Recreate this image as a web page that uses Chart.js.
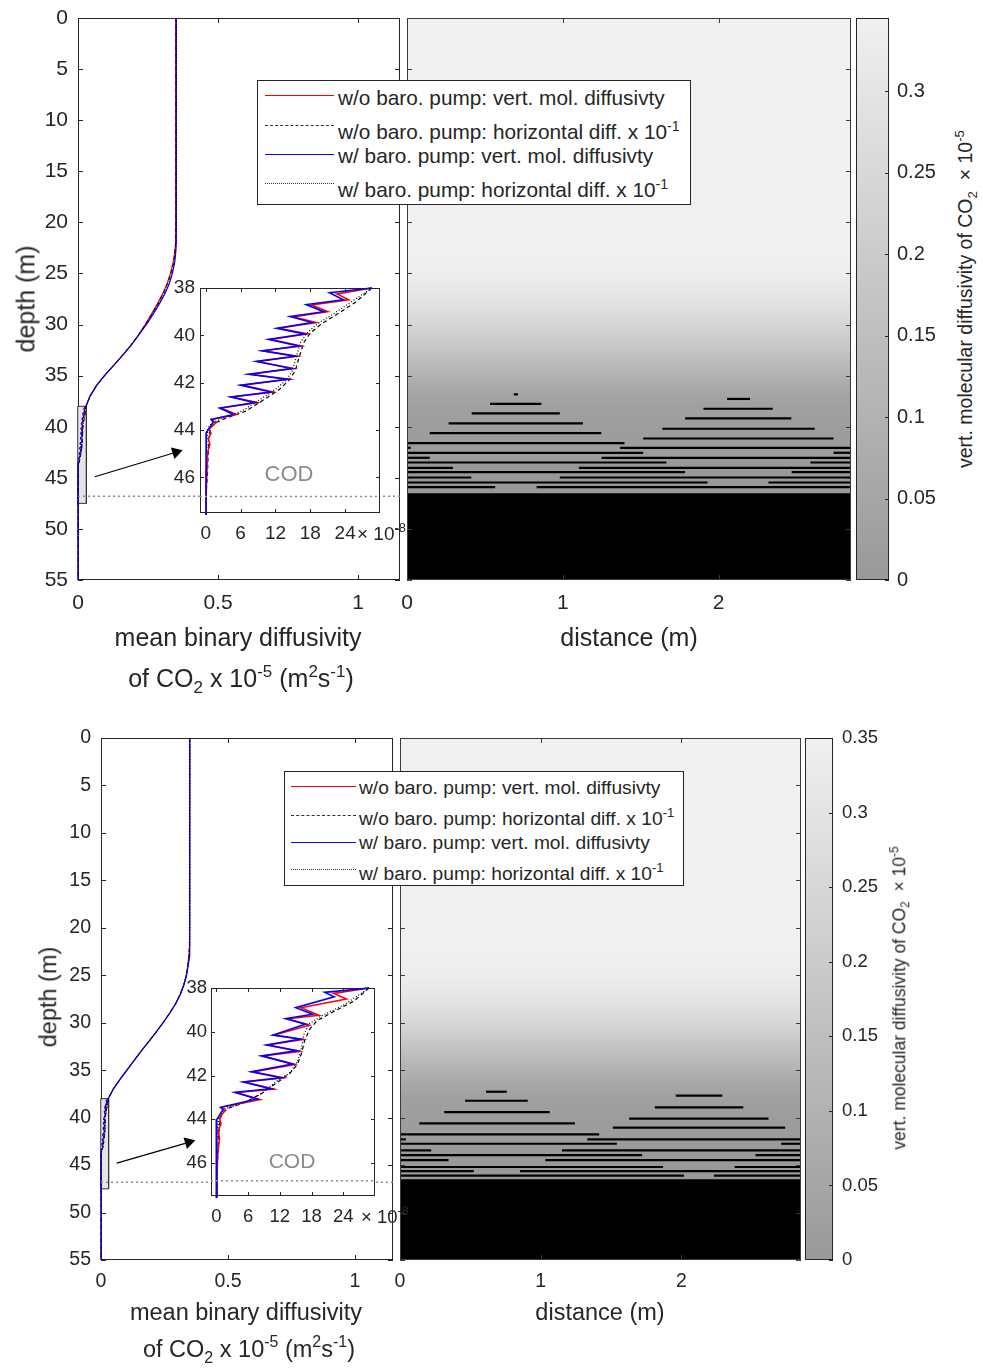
<!DOCTYPE html>
<html>
<head>
<meta charset="utf-8">
<title>CO2 diffusivity profiles</title>
<script src="https://cdn.jsdelivr.net/npm/chart.js@4.4.1/dist/chart.umd.min.js"></script>
<style>
  html, body { margin: 0; padding: 0; background: #fff; }
  #page { position: relative; width: 983px; height: 1370px; overflow: hidden;
          font-family: 'Liberation Sans', Arial, sans-serif; color: #262626; }
  #page canvas { position: absolute; }
  .t { position: absolute; white-space: nowrap; line-height: 1; transform: translate(-50%, -50%); z-index: 5; }
  .t.left { transform: translate(0, -50%); }
  .t.rot { transform: translate(-50%, -50%) rotate(-90deg); }
  sup, sub { font-size: 0.68em; line-height: 0; position: relative; vertical-align: baseline; }
  sup { top: -0.6em; }
  sub { top: 0.35em; }
  .legend { position: absolute; background: #fff; border: 1px solid #262626; box-sizing: border-box; z-index: 6; }
  .legend .smp { position: absolute; height: 0; }
  .legend .lt { position: absolute; white-space: nowrap; line-height: 1; transform: translateY(-50%); }
</style>
</head>
<body>
<div id="page">
  <!-- top panel texts -->
  <div class="t rot" style="left:26px;top:299px;font-size:25px">depth (m)</div>
  <div class="t" style="left:238px;top:637px;font-size:25px">mean binary diffusivity</div>
  <div class="t" style="left:241px;top:678px;font-size:25px">of CO<sub>2</sub> x 10<sup>-5</sup> (m<sup>2</sup>s<sup>-1</sup>)</div>
  <div class="t" style="left:629px;top:637px;font-size:25px">distance (m)</div>
  <div class="t rot" style="left:966px;top:299px;font-size:19.5px">vert. molecular diffusivity of CO<sub>2</sub>&nbsp;&nbsp;× 10<sup>-5</sup></div>
  <div class="t left" style="left:357px;top:533px;font-size:19px">× 10<sup>-8</sup></div>
  <div class="t" style="left:289px;top:474px;font-size:22px;color:#8c8c8c">COD</div>
  <div class="legend" style="left:257px;top:80px;width:434px;height:125px;font-size:20.8px">
    <div class="smp" style="left:7px;width:69px;top:14px;border-top:1.5px solid #ff0000"></div>
    <div class="lt" style="left:80px;top:17px">w/o baro. pump: vert. mol. diffusivty</div>
    <div class="smp" style="left:7px;width:69px;top:44px;border-top:1.3px dashed #333"></div>
    <div class="lt" style="left:80px;top:51px">w/o baro. pump: horizontal diff. x 10<sup>-1</sup></div>
    <div class="smp" style="left:7px;width:69px;top:73px;border-top:1.5px solid #0000ff"></div>
    <div class="lt" style="left:80px;top:75px">w/ baro. pump: vert. mol. diffusivty</div>
    <div class="smp" style="left:7px;width:69px;top:102px;border-top:1.3px dotted #333"></div>
    <div class="lt" style="left:80px;top:109px">w/ baro. pump: horizontal diff. x 10<sup>-1</sup></div>
  </div>

  <!-- bottom panel texts -->
  <div class="t rot" style="left:49px;top:997px;font-size:23.5px">depth (m)</div>
  <div class="t" style="left:246px;top:1313px;font-size:23.5px">mean binary diffusivity</div>
  <div class="t" style="left:249px;top:1350px;font-size:23.5px">of CO<sub>2</sub> x 10<sup>-5</sup> (m<sup>2</sup>s<sup>-1</sup>)</div>
  <div class="t" style="left:600px;top:1313px;font-size:23.5px">distance (m)</div>
  <div class="t rot" style="left:900px;top:998px;font-size:17.5px">vert. molecular diffusivity of CO<sub>2</sub>&nbsp;&nbsp;× 10<sup>-5</sup></div>
  <div class="t left" style="left:361px;top:1217px;font-size:18.5px">× 10<sup>-8</sup></div>
  <div class="t" style="left:292px;top:1160px;font-size:21px;color:#8c8c8c">COD</div>
  <div class="legend" style="left:284px;top:771px;width:400px;height:115px;font-size:19.2px">
    <div class="smp" style="left:6px;width:65px;top:14px;border-top:1.5px solid #ff0000"></div>
    <div class="lt" style="left:74px;top:16px">w/o baro. pump: vert. mol. diffusivty</div>
    <div class="smp" style="left:6px;width:65px;top:43px;border-top:1.3px dashed #333"></div>
    <div class="lt" style="left:74px;top:47px">w/o baro. pump: horizontal diff. x 10<sup>-1</sup></div>
    <div class="smp" style="left:6px;width:65px;top:70px;border-top:1.5px solid #0000ff"></div>
    <div class="lt" style="left:74px;top:71px">w/ baro. pump: vert. mol. diffusivty</div>
    <div class="smp" style="left:6px;width:65px;top:97px;border-top:1.3px dotted #333"></div>
    <div class="lt" style="left:74px;top:102px">w/ baro. pump: horizontal diff. x 10<sup>-1</sup></div>
  </div>
</div>

<script>
// ---------- ticks ----------
const depthTicks = [0, 5, 10, 15, 20, 25, 30, 35, 40, 45, 50, 55];
const depthTickLabels = ['0', '5', '10', '15', '20', '25', '30', '35', '40', '45', '50', '55'];
const diffTicks = [0, 0.5, 1];
const diffTickLabels = ['0', '0.5', '1'];
const distTicks = [0, 1, 2];
const distTickLabels = ['0', '1', '2'];
const insetDepthTicks = [38, 40, 42, 44, 46];
const insetDepthTickLabels = ['38', '40', '42', '44', '46'];
const insetDiffTicks = [0, 6, 12, 18, 24];
const insetDiffTickLabels = ['0', '6', '12', '18', '24'];
const cbarTicks1 = [0, 0.05, 0.1, 0.15, 0.2, 0.25, 0.3];
const cbarTickLabels1 = ['0', '0.05', '0.1', '0.15', '0.2', '0.25', '0.3'];
const cbarTicks2 = [0, 0.05, 0.1, 0.15, 0.2, 0.25, 0.3, 0.35];
const cbarTickLabels2 = ['0', '0.05', '0.1', '0.15', '0.2', '0.25', '0.3', '0.35'];

const depthMax = 55;
const diffMax = 1.15;
const distMax = 2.85;
const insetDiffRange = [-1, 30];      // x 10^-8
const insetDepthRange = [38, 47.5];
const cbarMax1 = 0.345;
const cbarMax2 = 0.35;
const codDepth = 46.8;
const blackTop = 46.5;

// ---------- profiles above 38 m (x 10^-5 m2/s) ----------
const depthUpper = [0, 5, 10, 15, 20, 22, 23, 24, 25, 26, 27, 28, 29, 30, 31, 32, 33, 34, 35, 36, 37, 38];
const vertNoBaro1  = [0.349, 0.349, 0.349, 0.349, 0.349, 0.348, 0.345, 0.339, 0.330, 0.318, 0.302, 0.283, 0.262, 0.240, 0.216, 0.190, 0.160, 0.128, 0.095, 0.066, 0.043, 0.0286];
const horizNoBaro1 = [0.350, 0.350, 0.350, 0.350, 0.350, 0.349, 0.346, 0.341, 0.332, 0.320, 0.304, 0.285, 0.263, 0.241, 0.216, 0.189, 0.159, 0.127, 0.095, 0.066, 0.043, 0.0286];
const vertBaro1    = [0.351, 0.351, 0.351, 0.351, 0.351, 0.351, 0.349, 0.345, 0.337, 0.326, 0.310, 0.290, 0.268, 0.244, 0.218, 0.191, 0.160, 0.127, 0.094, 0.065, 0.043, 0.0286];
const horizBaro1   = [0.351, 0.351, 0.351, 0.351, 0.351, 0.350, 0.348, 0.343, 0.335, 0.323, 0.307, 0.287, 0.265, 0.242, 0.217, 0.190, 0.160, 0.127, 0.094, 0.065, 0.043, 0.0286];

const vertNoBaro2  = [0.349, 0.349, 0.349, 0.349, 0.349, 0.348, 0.346, 0.342, 0.336, 0.326, 0.312, 0.294, 0.270, 0.244, 0.217, 0.188, 0.158, 0.130, 0.102, 0.074, 0.048, 0.0289];
const horizNoBaro2 = [0.349, 0.349, 0.349, 0.349, 0.349, 0.348, 0.346, 0.342, 0.336, 0.326, 0.312, 0.293, 0.270, 0.244, 0.217, 0.188, 0.158, 0.130, 0.102, 0.074, 0.048, 0.0289];
const vertBaro2    = [0.350, 0.350, 0.350, 0.350, 0.350, 0.349, 0.347, 0.343, 0.337, 0.327, 0.313, 0.294, 0.271, 0.245, 0.217, 0.188, 0.158, 0.130, 0.102, 0.074, 0.048, 0.0289];
const horizBaro2   = [0.350, 0.350, 0.350, 0.350, 0.350, 0.349, 0.347, 0.343, 0.336, 0.326, 0.312, 0.294, 0.270, 0.244, 0.217, 0.188, 0.158, 0.130, 0.102, 0.074, 0.048, 0.0289];

// ---------- profiles below 38 m (inset, x 10^-8 m2/s) ----------
const insetRedDepth1 = [38.0, 38.25, 38.5, 38.72, 39.0, 39.22, 39.46, 39.7, 39.94, 40.17, 40.45, 40.65, 40.88, 41.1, 41.4, 41.64, 41.85, 42.1, 42.39, 42.6, 42.84, 43.07, 43.34, 43.55, 43.7, 43.95, 44.15, 44.35, 44.6, 44.95, 45.7, 46.6, 55];
const insetRed1      = [28.6, 22.6, 24.6, 18.2, 21.0, 15.0, 19.0, 12.6, 17.5, 11.1, 16.4, 9.9, 15.7, 8.9, 15.1, 7.6, 14.3, 6.2, 11.6, 4.5, 8.9, 2.6, 5.3, 1.0, 1.7, 0.6, 0.9, 0.4, 0.7, 0.3, 0.2, 0.06, 0];
const insetBlueDepth1 = [38.0, 38.2, 38.5, 38.7, 39.0, 39.2, 39.46, 39.7, 39.94, 40.17, 40.45, 40.65, 40.88, 41.1, 41.4, 41.64, 41.85, 42.1, 42.39, 42.6, 42.84, 43.07, 43.34, 43.55, 43.66, 44.1, 45.0, 55];
const insetBlue1      = [28.6, 21.3, 23.7, 17.3, 20.3, 14.5, 18.3, 12.2, 17.0, 10.8, 16.0, 9.7, 15.4, 8.7, 14.8, 7.4, 14.0, 6.0, 11.2, 4.3, 8.5, 2.4, 4.8, 0.9, 1.3, 0.1, 0.05, 0];
const insetDashDepth1 = [38.0, 38.6, 39.06, 39.5, 39.9, 40.3, 40.9, 41.5, 41.9, 42.3, 42.7, 43.2, 43.5, 43.7, 43.9, 44.3, 45.0, 45.8, 46.5, 55];
const insetDash1      = [28.6, 25.8, 22.9, 20.0, 18.0, 16.9, 16.1, 15.4, 14.3, 12.6, 10.1, 6.9, 3.4, 1.6, 0.8, 0.5, 0.4, 0.3, 0.1, 0];
const insetDotDepth1 = [38.0, 38.6, 39.06, 39.5, 39.9, 40.3, 40.9, 41.5, 41.9, 42.3, 42.7, 43.2, 43.5, 43.7, 43.9, 44.3, 45.0, 46.0, 55];
const insetDot1      = [28.6, 25.0, 22.2, 19.3, 17.4, 16.3, 15.6, 14.9, 13.8, 11.9, 9.4, 6.2, 2.8, 1.1, 0.4, 0.2, 0.1, 0.05, 0];

const insetRedDepth2 = [38.0, 38.25, 38.5, 38.9, 39.25, 39.4, 39.7, 40.15, 40.35, 40.6, 40.9, 41.1, 41.5, 41.83, 42.1, 42.29, 42.62, 42.77, 43.1, 43.45, 43.6, 43.95, 44.2, 44.5, 44.9, 45.5, 46.3, 55];
const insetRed2      = [28.9, 22.2, 24.6, 16.0, 19.4, 13.5, 17.6, 11.0, 16.3, 9.8, 15.7, 8.8, 14.8, 6.9, 12.7, 5.4, 10.9, 3.8, 8.3, 1.0, 1.6, 0.6, 0.9, 0.4, 0.6, 0.3, 0.15, 0];
const insetBlueDepth2 = [38.0, 38.2, 38.4, 38.9, 39.2, 39.4, 39.65, 40.15, 40.33, 40.6, 40.86, 41.1, 41.47, 41.83, 42.1, 42.29, 42.6, 42.77, 43.07, 43.45, 43.55, 44.0, 55];
const insetBlue2      = [28.9, 20.5, 22.3, 15.0, 18.2, 13.1, 16.9, 10.7, 15.9, 9.5, 15.3, 8.5, 14.4, 6.6, 12.2, 5.1, 10.3, 3.5, 7.7, 0.8, 1.3, 0.1, 0];
const insetDashDepth2 = [38.0, 38.6, 39.1, 39.5, 39.9, 40.4, 41.0, 41.5, 41.9, 42.3, 42.8, 43.2, 43.5, 43.75, 44.2, 45.0, 46.0, 55];
const insetDash2      = [28.9, 26.0, 22.0, 19.0, 17.6, 16.7, 16.1, 15.3, 13.9, 11.6, 8.7, 5.6, 2.2, 1.0, 0.6, 0.4, 0.2, 0];
const insetDotDepth2 = [38.0, 38.76, 39.3, 39.65, 40.1, 40.73, 41.33, 41.86, 42.24, 42.85, 43.3, 43.53, 43.9, 44.97, 55];
const insetDot2      = [28.9, 24.2, 19.7, 17.5, 16.6, 16.1, 15.4, 14.0, 11.5, 8.4, 4.6, 1.4, 0.44, 0.13, 0];

// ---------- black (zero diffusivity) layers in the 2-D field ----------
const barDepth1 = [36.83, 37.28, 37.77, 38.24, 38.70, 39.18, 39.68, 40.20, 40.62, 41.15, 41.60, 42.06, 42.06, 42.55, 42.55, 43.04, 43.04, 43.50, 43.50, 44.02, 44.02, 44.45, 44.45, 44.97, 44.97, 45.46, 45.46, 45.91, 45.91];
const barFrom1  = [0.686, 2.054, 0.533, 1.903, 0.415, 1.785, 0.267, 1.639, 0.146, 1.516, 0, 0, 1.368, 0, 2.738, 0, 1.249, 0, 2.589, 0, 1.103, 0, 2.469, 0, 0.981, 0, 2.320, 0, 0.832];
const barTo1    = [0.712, 2.202, 0.862, 2.348, 0.981, 2.467, 1.129, 2.617, 1.247, 2.738, 1.396, 0.024, 2.85, 1.516, 2.85, 0.146, 2.85, 1.665, 2.85, 0.295, 2.85, 1.785, 2.85, 0.413, 2.85, 1.929, 2.85, 0.566, 2.85];

const barDepth2 = [37.27, 37.69, 38.22, 38.92, 39.41, 40.11, 40.60, 41.06, 41.76, 42.29, 42.29, 42.75, 42.75, 43.45, 43.45, 43.94, 43.94, 44.47, 44.47, 45.20, 45.20, 45.63, 45.63, 46.12, 46.12];
const barFrom2  = [0.612, 1.960, 0.463, 1.811, 0.314, 1.629, 0.137, 1.513, 0, 0, 1.331, 0, 2.709, 0, 1.151, 0, 2.527, 0, 1.033, 0, 2.378, 0, 0.853, 0, 2.231];
const barTo2    = [0.759, 2.291, 0.908, 2.440, 1.064, 2.619, 1.243, 2.737, 1.416, 0.042, 2.85, 1.541, 2.85, 0.222, 2.85, 1.721, 2.85, 0.345, 2.85, 1.870, 2.85, 0.525, 2.85, 2.019, 2.85];

// arrow from zoom box to inset (diffusivity, depth)
const arrowDiff1 = [0.06, 0.35];
const arrowDepth1 = [44.9, 42.5];
const arrowDiff2 = [0.062, 0.345];
const arrowDepth2 = [44.8, 42.6];

// ---------- helpers ----------
const FONT = "'Liberation Sans', Arial, Helvetica, sans-serif";
const INK = '#262626';

function makeCanvas(area, pad) {
  const c = document.createElement('canvas');
  const w = area.r - area.l + pad.l + pad.r;
  const h = area.b - area.t + pad.t + pad.b;
  c.width = w;
  c.height = h;
  c.style.left = (area.l - pad.l) + 'px';
  c.style.top = (area.t - pad.t) + 'px';
  c.style.width = w + 'px';
  c.style.height = h + 'px';
  document.getElementById('page').appendChild(c);
  return c.getContext('2d');
}

function axis(min, max, vals, labels, size, fontSize, padding, extra) {
  return Object.assign({
    type: 'linear', min: min, max: max,
    afterBuildTicks: s => { s.ticks = vals.map(v => ({ value: v })); },
    afterFit: s => {
      if (s.isHorizontal()) s.height = size; else s.width = size;
      s.paddingLeft = s.paddingRight = s.paddingTop = s.paddingBottom = 0;
    },
    ticks: {
      display: labels !== null,
      callback: (v, i) => (labels ? labels[i] : ''),
      autoSkip: false, maxRotation: 0, padding: padding,
      color: INK, font: { family: FONT, size: fontSize }
    },
    grid: { display: false, drawTicks: false },
    border: { display: false }
  }, extra || {});
}

function grayOf(v, cMax) {
  const t = Math.max(0, Math.min(1, v / cMax));
  const g = Math.round(153 + t * 87);
  return 'rgb(' + g + ',' + g + ',' + g + ')';
}

// box + inward tick marks, like the matlab axes
function framePlugin(o) {
  const draw = chart => {
    const ctx = chart.ctx, a = chart.chartArea;
    const xs = chart.scales.x, ys = chart.scales.y;
    ctx.save();
    ctx.strokeStyle = o.color || INK;
    ctx.lineWidth = 1;
    ctx.beginPath();
    if (o.x) xs.ticks.forEach(t => {
      const p = Math.round(xs.getPixelForValue(t.value)) + 0.5;
      if (o.x.includes('b')) { ctx.moveTo(p, a.bottom); ctx.lineTo(p, a.bottom - o.len); }
      if (o.x.includes('t')) { ctx.moveTo(p, a.top); ctx.lineTo(p, a.top + o.len); }
    });
    if (o.y) ys.ticks.forEach(t => {
      const p = Math.round(ys.getPixelForValue(t.value)) + 0.5;
      if (o.y.includes('l')) { ctx.moveTo(a.left, p); ctx.lineTo(a.left + o.len, p); }
      if (o.y.includes('r')) { ctx.moveTo(a.right, p); ctx.lineTo(a.right - o.len, p); }
    });
    ctx.stroke();
    ctx.strokeRect(Math.round(a.left) + 0.5, Math.round(a.top) + 0.5,
                   Math.round(a.right - a.left) - 1, Math.round(a.bottom - a.top) - 1);
    ctx.restore();
  };
  return {
    id: 'frame',
    beforeDatasetsDraw(chart) {
      if (o.fill) {
        const a = chart.chartArea;
        chart.ctx.save();
        chart.ctx.fillStyle = o.fill;
        chart.ctx.fillRect(a.left, a.top, a.right - a.left, a.bottom - a.top);
        chart.ctx.restore();
      }
      if (!o.onTop) draw(chart);
    },
    afterDatasetsDraw(chart) { if (o.onTop) draw(chart); }
  };
}

// gray field behind the layers, coloured from the profile through the y scale
function heatPlugin(profile, cMax) {
  return {
    id: 'heat',
    beforeDatasetsDraw(chart) {
      const ctx = chart.ctx, a = chart.chartArea;
      const xs = chart.scales.x, ys = chart.scales.y;
      const h = a.bottom - a.top;
      const g = ctx.createLinearGradient(0, a.top, 0, a.bottom);
      profile.forEach(p => {
        const off = (ys.getPixelForValue(p.y) - a.top) / h;
        if (off >= 0 && off <= 1) g.addColorStop(off, grayOf(p.x, cMax));
      });
      ctx.save();
      ctx.fillStyle = g;
      const x0 = xs.getPixelForValue(0);
      ctx.fillRect(x0, a.top, xs.getPixelForValue(distMax) - x0, h);
      ctx.restore();
    }
  };
}

function joinProfile(upperVals, lowDepth, lowVals) {
  const pts = depthUpper.map((d, i) => ({ x: upperVals[i], y: d }));
  // inset is in 1e-8, main axis in 1e-5
  lowDepth.forEach((d, i) => { if (i > 0) pts.push({ x: lowVals[i] / 1000, y: d }); });
  return pts;
}

function insetPts(depths, vals) {
  return depths.map((d, i) => ({ x: vals[i], y: d }));
}

const lineBase = { showLine: true, pointRadius: 0, tension: 0, clip: 4, fill: false };
const baseOpts = {
  responsive: false, animation: false, devicePixelRatio: 1, events: [],
  plugins: { legend: { display: false }, tooltip: { enabled: false } }
};

function buildPanel(P) {
  // ---- depth profile ----
  const red = joinProfile(P.vertNoBaro, P.insetRed[0], P.insetRed[1]);
  const dash = joinProfile(P.horizNoBaro, P.insetDash[0], P.insetDash[1]);
  const blue = joinProfile(P.vertBaro, P.insetBlue[0], P.insetBlue[1]);
  const dot = joinProfile(P.horizBaro, P.insetDot[0], P.insetDot[1]);
  const rx0 = insetDiffRange[0] / 1000, rx1 = insetDiffRange[1] / 1000;
  const ry0 = insetDepthRange[0], ry1 = insetDepthRange[1];

  new Chart(makeCanvas(P.main, { l: 60, t: 14, r: 2, b: 50 }), {
    type: 'scatter',
    data: { datasets: [
      { data: [{ x: 0, y: codDepth }, { x: diffMax, y: codDepth }], borderColor: '#8c8c8c', borderDash: [2, 3], borderWidth: 1.5 },
      { data: [{ x: P.arrow[0][0], y: P.arrow[1][0] }, { x: P.arrow[0][1], y: P.arrow[1][1] }],
        borderColor: '#000', borderWidth: 1.2, pointRadius: [0, 7], pointStyle: 'triangle',
        pointBackgroundColor: '#000', pointBorderColor: '#000', pointBorderWidth: 0,
        pointRotation: c => {
          const xs = c.chart.scales.x, ys = c.chart.scales.y;
          const dx = xs.getPixelForValue(P.arrow[0][1]) - xs.getPixelForValue(P.arrow[0][0]);
          const dy = ys.getPixelForValue(P.arrow[1][1]) - ys.getPixelForValue(P.arrow[1][0]);
          return Math.atan2(dy, dx) * 180 / Math.PI + 90;
        } },
      { data: dot, borderColor: '#000', borderDash: [1, 2], borderWidth: 1 },
      { data: blue, borderColor: '#0000ff', borderWidth: 1.2 },
      { data: dash, borderColor: '#000', borderDash: [4, 3], borderWidth: 1 },
      { data: red, borderColor: '#ff0000', borderWidth: 1.2 },
      { data: [{ x: rx0, y: ry0 }, { x: rx1, y: ry0 }, { x: rx1, y: ry1 }, { x: rx0, y: ry1 }, { x: rx0, y: ry0 }],
        fill: 'shape', backgroundColor: '#e4e4e4', borderColor: '#333', borderWidth: 1 }
    ].map(ds => Object.assign({}, lineBase, ds)) },
    options: Object.assign({}, baseOpts, {
      layout: { padding: { left: 0, top: 14, right: 2, bottom: 0 } },
      scales: {
        x: axis(0, diffMax, diffTicks, diffTickLabels, 50, P.fs, P.xPad),
        y: axis(0, depthMax, depthTicks, depthTickLabels, 60, P.fs, 10, { reverse: true })
      }
    }),
    plugins: [framePlugin({ x: 'bt', y: 'lr', len: 5 })]
  });

  // ---- 2-D field ----
  const bars = P.bars[0].map((d, i) => ({
    data: [{ x: P.bars[1][i], y: d }, { x: P.bars[2][i], y: d }],
    borderColor: '#000', borderWidth: 2.2, borderCapStyle: 'butt'
  }));
  bars.push({ data: [{ x: 0, y: blackTop }, { x: distMax, y: blackTop }],
    borderColor: '#000', borderWidth: 0, backgroundColor: '#000', fill: { value: depthMax } });

  new Chart(makeCanvas(P.heat, { l: 12, t: 14, r: 2, b: 50 }), {
    type: 'scatter',
    data: { datasets: bars.map(ds => Object.assign({}, lineBase, { clip: 0 }, ds)) },
    options: Object.assign({}, baseOpts, {
      layout: { padding: { left: 0, top: 14, right: 2, bottom: 0 } },
      scales: {
        x: axis(0, distMax, distTicks, distTickLabels, 50, P.fs, P.xPad),
        y: axis(0, depthMax, depthTicks, null, 12, P.fs, 0, { reverse: true })
      }
    }),
    plugins: [heatPlugin(dash, P.cMax), framePlugin({ x: 'bt', y: 'lr', len: 5, onTop: true, color: '#3a3a3a' })]
  });

  // ---- colour bar ----
  new Chart(makeCanvas(P.cbar, { l: 2, t: 14, r: 60, b: 14 }), {
    type: 'bar',
    data: { labels: ['cb'], datasets: [{
      data: [[0, P.cMax]], barPercentage: 1, categoryPercentage: 1, borderWidth: 0,
      backgroundColor: c => {
        const a = c.chart.chartArea;
        if (!a) return '#bbb';
        const ys = c.chart.scales.y;
        const g = c.chart.ctx.createLinearGradient(0, ys.getPixelForValue(0), 0, ys.getPixelForValue(P.cMax));
        g.addColorStop(0, grayOf(0, P.cMax));
        g.addColorStop(1, grayOf(P.cMax, P.cMax));
        return g;
      }
    }] },
    options: Object.assign({}, baseOpts, {
      layout: { padding: { left: 2, top: 14, right: 0, bottom: 14 } },
      scales: {
        x: { type: 'category', display: false },
        y: axis(0, P.cMax, P.cTicks, P.cLabels, 60, P.cfs, P.cPad, { position: 'right' })
      }
    }),
    plugins: [framePlugin({ y: 'r', len: 4, onTop: true })]
  });

  // ---- inset ----
  new Chart(makeCanvas(P.inset, { l: 32, t: 12, r: 2, b: 36 }), {
    type: 'scatter',
    data: { datasets: [
      { data: [{ x: insetDiffRange[0], y: codDepth }, { x: insetDiffRange[1], y: codDepth }], borderColor: '#8c8c8c', borderDash: [2, 3], borderWidth: 1.5 },
      { data: insetPts(P.insetBlue[0], P.insetBlue[1]), borderColor: '#0000ff', borderWidth: 1.6 },
      { data: insetPts(P.insetRed[0], P.insetRed[1]), borderColor: '#ff0000', borderWidth: 1.6 },
      { data: insetPts(P.insetDot[0], P.insetDot[1]), borderColor: '#000', borderDash: [1, 2], borderWidth: 1.2 },
      { data: insetPts(P.insetDash[0], P.insetDash[1]), borderColor: '#000', borderDash: [4, 3], borderWidth: 1.2 }
    ].map(ds => Object.assign({}, lineBase, { clip: 2 }, ds)) },
    options: Object.assign({}, baseOpts, {
      layout: { padding: { left: 0, top: 12, right: 2, bottom: 0 } },
      scales: {
        x: axis(insetDiffRange[0], insetDiffRange[1], insetDiffTicks, insetDiffTickLabels, 36, P.ifs, P.ixPad),
        y: axis(insetDepthRange[0], insetDepthRange[1], insetDepthTicks, insetDepthTickLabels, 32, P.ifs, P.iyPad, { reverse: true })
      }
    }),
    plugins: [framePlugin({ x: 'bt', y: 'lr', len: 4, fill: '#ffffff' })]
  });
}

buildPanel({
  main: { l: 78, t: 18, r: 405, b: 580 },
  heat: { l: 407, t: 18, r: 851, b: 580 },
  cbar: { l: 856, t: 18, r: 889, b: 580 },
  inset: { l: 200, t: 288, r: 380, b: 513 },
  fs: 21, xPad: 11, cfs: 20, cPad: 8, ifs: 19, ixPad: 9, iyPad: 5,
  cMax: cbarMax1, cTicks: cbarTicks1, cLabels: cbarTickLabels1,
  vertNoBaro: vertNoBaro1, horizNoBaro: horizNoBaro1, vertBaro: vertBaro1, horizBaro: horizBaro1,
  insetRed: [insetRedDepth1, insetRed1], insetDash: [insetDashDepth1, insetDash1],
  insetBlue: [insetBlueDepth1, insetBlue1], insetDot: [insetDotDepth1, insetDot1],
  bars: [barDepth1, barFrom1, barTo1],
  arrow: [arrowDiff1, arrowDepth1]
});

buildPanel({
  main: { l: 101, t: 738, r: 398, b: 1260 },
  heat: { l: 400, t: 738, r: 801, b: 1260 },
  cbar: { l: 805, t: 738, r: 833, b: 1260 },
  inset: { l: 211, t: 988, r: 375, b: 1196 },
  fs: 19.5, xPad: 10, cfs: 18.5, cPad: 9, ifs: 18.5, ixPad: 9.5, iyPad: 4,
  cMax: cbarMax2, cTicks: cbarTicks2, cLabels: cbarTickLabels2,
  vertNoBaro: vertNoBaro2, horizNoBaro: horizNoBaro2, vertBaro: vertBaro2, horizBaro: horizBaro2,
  insetRed: [insetRedDepth2, insetRed2], insetDash: [insetDashDepth2, insetDash2],
  insetBlue: [insetBlueDepth2, insetBlue2], insetDot: [insetDotDepth2, insetDot2],
  bars: [barDepth2, barFrom2, barTo2],
  arrow: [arrowDiff2, arrowDepth2]
});
</script>
</body>
</html>
